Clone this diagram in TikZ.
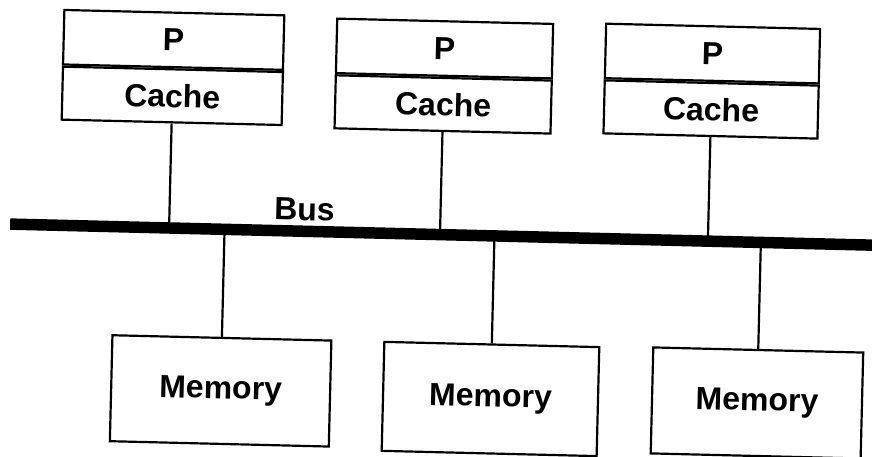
\documentclass[tikz,border=0pt]{standalone}
\usepackage{fontspec}
\setmainfont{Liberation Sans}
\begin{document}
\begin{tikzpicture}[x=1pt,y=-1pt,
  lbl/.style={font=\fontsize{32}{38}\selectfont\bfseries},
  box/.style={draw,line width=2.2pt,inner sep=0pt,lbl,minimum width=216pt},
  link/.style={line width=2.2pt},
  busline/.style={line width=11.5pt}]
\useasboundingbox (0,0) rectangle (872,456);
\clip (0,0) rectangle (872,456);
\begin{scope}[rotate around={-1.4:(436,234)}, transform shape]
  % processors with caches
  \node[box,minimum width=220pt,minimum height=54.5pt,anchor=north] (p1) at (169,18) {P};
  \node[box,minimum width=220pt,minimum height=53pt,anchor=north] (c1) at (p1.south) {Cache};
  \node[box,minimum height=54.5pt,anchor=north] (p2) at (440,20) {P};
  \node[box,minimum height=53pt,anchor=north] (c2) at (p2.south) {Cache};
  \node[box,minimum width=214pt,minimum height=54.5pt,anchor=north] (p3) at (708,18.5) {P};
  \node[box,minimum width=214pt,minimum height=53pt,anchor=north] (c3) at (p3.south) {Cache};
  % bus
  \coordinate (busL) at (10,234.5);
  \coordinate (busR) at (900,234.5);
  \draw[busline] (busL) -- (busR);
  \node[lbl] (buslbl) at (304,213) {Bus};
  \coordinate (t1) at (169,234.5);
  \coordinate (t2) at (440,234.5);
  \coordinate (t3) at (708,234.5);
  \coordinate (u1) at (224.5,234.5);
  \coordinate (u2) at (494.5,234.5);
  \coordinate (u3) at (761,234.5);
  % memories
  \node[box,minimum width=219pt,minimum height=106pt,anchor=north] (m1) at (224.5,342) {Memory};
  \node[box,minimum width=215pt,minimum height=109pt,anchor=north] (m2) at (494.5,342) {Memory};
  \node[box,minimum width=210pt,minimum height=106pt,anchor=north] (m3) at (761,341) {Memory};
  % connectors
  \draw[link] (c1.south) -- (t1);
  \draw[link] (c2.south) -- (t2);
  \draw[link] (c3.south) -- (t3);
  \draw[link] (u1) -- (m1.north);
  \draw[link] (u2) -- (m2.north);
  \draw[link] (u3) -- (m3.north);
\end{scope}
\end{tikzpicture}
\end{document}
